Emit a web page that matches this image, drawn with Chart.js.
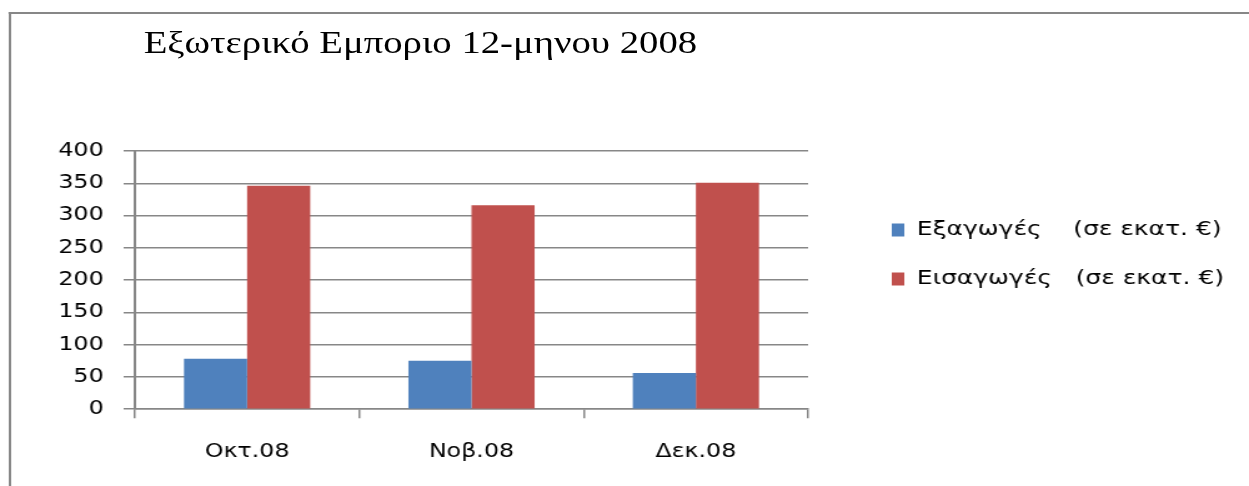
<!DOCTYPE html>
<html lang="el">
<head>
<meta charset="utf-8">
<title>Εξωτερικό Εμποριο 12-μηνου 2008</title>
<script src="https://cdn.jsdelivr.net/npm/chart.js@4.4.1/dist/chart.umd.min.js"></script>
<style>
  html, body { margin: 0; padding: 0; background: #fff; overflow: hidden; }
  body { width: 1249px; height: 486px; position: relative; }
  /* the original picture is stretched sideways, so the whole stage is too */
  #stage {
    position: absolute; left: 0; top: 0;
    width: 1000px; height: 486px;
    transform: scaleX(1.249); transform-origin: 0 0;
  }
  .frame {
    position: absolute; left: 7px; top: 12px;
    width: 1200px; height: 600px;
    border-left: 2px solid #878787; border-top: 2px solid #878787;
  }
  .title {
    position: absolute; left: 115px; top: 27px;
    font-family: "Liberation Serif", "DejaVu Serif", serif;
    font-size: 31px; line-height: 31px; color: #000; white-space: nowrap;
  }
  .chart-box { position: absolute; left: 0; top: 0; width: 1000px; height: 486px; }
</style>
</head>
<body>
<div id="stage">
  <div class="frame"></div>
  <div class="title">Εξωτερικό Εμποριο 12-μηνου 2008</div>
  <div class="chart-box"><canvas id="trade-chart"></canvas></div>
</div>
<script>
  // Δεδομένα
  const months = ["Οκτ.08", "Νοβ.08", "Δεκ.08"];
  const exportsValues = [78, 75, 56];
  const importsValues = [346, 316, 351];
  const seriesLabels = ["Εξαγωγές    (σε εκατ. €)", "Εισαγωγές   (σε εκατ. €)"];
  const yMin = 0;
  const yMax = 400;
  const yStep = 50;

  const AXIS_GREY = "#878787";
  const LEGEND_WIDTH = 353;
  const LEGEND_BOX_X = 714;
  const LEGEND_FIRST_Y = 230;

  // legend placed like the spreadsheet one, not glued to the plot
  const legendPlace = {
    id: "legendPlace",
    beforeLayout(chart) {
      const lg = chart.legend;
      if (lg && !lg.__fixed) {
        const fit = lg.fit;
        lg.fit = function () {
          fit.call(this);
          this.width = LEGEND_WIDTH;
        };
        lg.__fixed = true;
      }
    },
    afterLayout(chart) {
      const lg = chart.legend;
      if (!lg) return;
      const pad = lg.options.labels.padding;
      const size = lg.options.labels.font.size;
      lg.left = LEGEND_BOX_X - pad;
      lg.right = lg.left + lg.width;
      lg.top = LEGEND_FIRST_Y - pad - size / 2;
      lg.bottom = lg.top + lg.height;
    },
  };

  const canvas = document.getElementById("trade-chart");
  new Chart(canvas, {
    type: "bar",
    data: {
      labels: months,
      datasets: [
        {
          label: seriesLabels[0],
          data: exportsValues,
          backgroundColor: "#4f81bd",
          borderWidth: 0,
          categoryPercentage: 0.5625,
          barPercentage: 1,
        },
        {
          label: seriesLabels[1],
          data: importsValues,
          backgroundColor: "#c0504d",
          borderWidth: 0,
          categoryPercentage: 0.5625,
          barPercentage: 1,
        },
      ],
    },
    options: {
      responsive: true,
      maintainAspectRatio: false,
      animation: false,
      layout: {
        padding: { top: 151, left: 0, right: 0, bottom: 1 },
      },
      plugins: {
        title: { display: false },
        tooltip: { enabled: false },
        legend: {
          display: true,
          position: "right",
          align: "start",
          labels: {
            boxWidth: 10,
            boxHeight: 13,
            padding: 29,
            color: "#000",
            font: { family: "'DejaVu Sans', Verdana, sans-serif", size: 20 },
          },
        },
      },
      scales: {
        x: {
          offset: true,
          grid: {
            offset: true,
            drawOnChartArea: false,
            drawTicks: true,
            tickLength: 9,
            color: AXIS_GREY,
            lineWidth: 1.5,
          },
          border: { display: true, color: AXIS_GREY, width: 1.5 },
          ticks: {
            color: "#000",
            padding: 22,
            maxRotation: 0,
            font: { family: "'DejaVu Sans', Verdana, sans-serif", size: 19 },
          },
        },
        y: {
          min: yMin,
          max: yMax,
          afterFit(scale) {
            scale.width = 108;
          },
          grid: {
            color: AXIS_GREY,
            lineWidth: 1.5,
            drawTicks: true,
            tickLength: 9,
          },
          border: { display: true, color: AXIS_GREY, width: 2 },
          ticks: {
            stepSize: yStep,
            color: "#000",
            padding: 16,
            font: { family: "'DejaVu Sans', Verdana, sans-serif", size: 19 },
          },
        },
      },
    },
    plugins: [legendPlace],
  });
</script>
</body>
</html>
